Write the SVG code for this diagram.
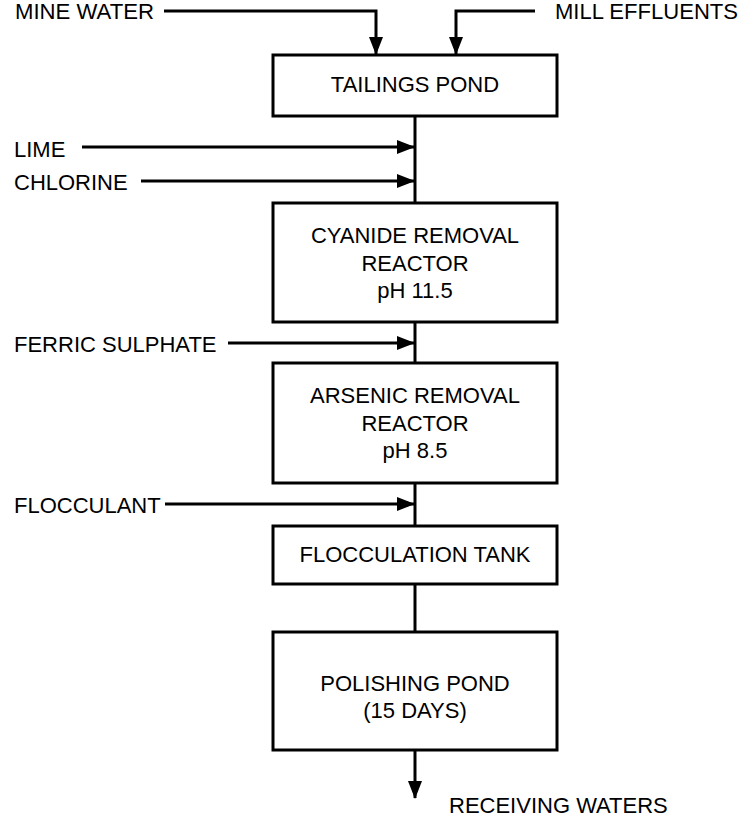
<svg xmlns="http://www.w3.org/2000/svg" width="753" height="830" viewBox="0 0 753 830">
<defs>
<style>
.box{fill:#fff;stroke:#000;stroke-width:3}
.ln{fill:none;stroke:#000;stroke-width:3}
.t{font-family:"Liberation Sans",Arial,sans-serif;font-size:22px;fill:#000}
.c{text-anchor:middle}
</style>
<marker id="ah" viewBox="0 0 18 14" refX="17" refY="7" markerWidth="18" markerHeight="14" markerUnits="userSpaceOnUse" orient="auto">
<path d="M0,0 L18,7 L0,14 z" fill="#000"/>
</marker>
</defs>
<rect width="753" height="830" fill="#fff"/>
<g id="connectors">
<path class="ln" d="M164,11 H376 V54" marker-end="url(#ah)"/>
<path class="ln" d="M535,11 H456 V54" marker-end="url(#ah)"/>
<path class="ln" d="M415,116 V203"/>
<path class="ln" d="M82,147 H414" marker-end="url(#ah)"/>
<path class="ln" d="M141,181 H414" marker-end="url(#ah)"/>
<path class="ln" d="M415,322 V363"/>
<path class="ln" d="M228,343 H414" marker-end="url(#ah)"/>
<path class="ln" d="M415,483 V526"/>
<path class="ln" d="M165,504 H414" marker-end="url(#ah)"/>
<path class="ln" d="M415,584 V632"/>
<path class="ln" d="M415,750 V798" marker-end="url(#ah)"/>
</g>
<g id="labels">
<text class="t" x="15" y="19" textLength="139" lengthAdjust="spacingAndGlyphs">MINE WATER</text>
<text class="t" x="555" y="19" textLength="183" lengthAdjust="spacingAndGlyphs">MILL EFFLUENTS</text>
<text class="t" x="14" y="157">LIME</text>
<text class="t" x="14" y="190">CHLORINE</text>
<text class="t" x="14" y="352">FERRIC SULPHATE</text>
<text class="t" x="14" y="513">FLOCCULANT</text>
<text class="t" x="449" y="813">RECEIVING WATERS</text>
</g>
<g id="tailings-pond">
<rect class="box" x="273" y="55" width="284" height="61"/>
<text class="t c" x="415" y="92">TAILINGS POND</text>
</g>
<g id="cyanide-removal-reactor">
<rect class="box" x="273" y="203" width="284" height="119"/>
<text class="t c" x="415" y="243">CYANIDE REMOVAL</text>
<text class="t c" x="415" y="271">REACTOR</text>
<text class="t c" x="415" y="298">pH 11.5</text>
</g>
<g id="arsenic-removal-reactor">
<rect class="box" x="273" y="363" width="284" height="120"/>
<text class="t c" x="415" y="403">ARSENIC REMOVAL</text>
<text class="t c" x="415" y="431">REACTOR</text>
<text class="t c" x="415" y="458">pH 8.5</text>
</g>
<g id="flocculation-tank">
<rect class="box" x="273" y="526" width="284" height="58"/>
<text class="t c" x="415" y="562">FLOCCULATION TANK</text>
</g>
<g id="polishing-pond">
<rect class="box" x="273" y="632" width="284" height="118"/>
<text class="t c" x="415" y="691">POLISHING POND</text>
<text class="t c" x="415" y="718">(15 DAYS)</text>
</g>
</svg>
